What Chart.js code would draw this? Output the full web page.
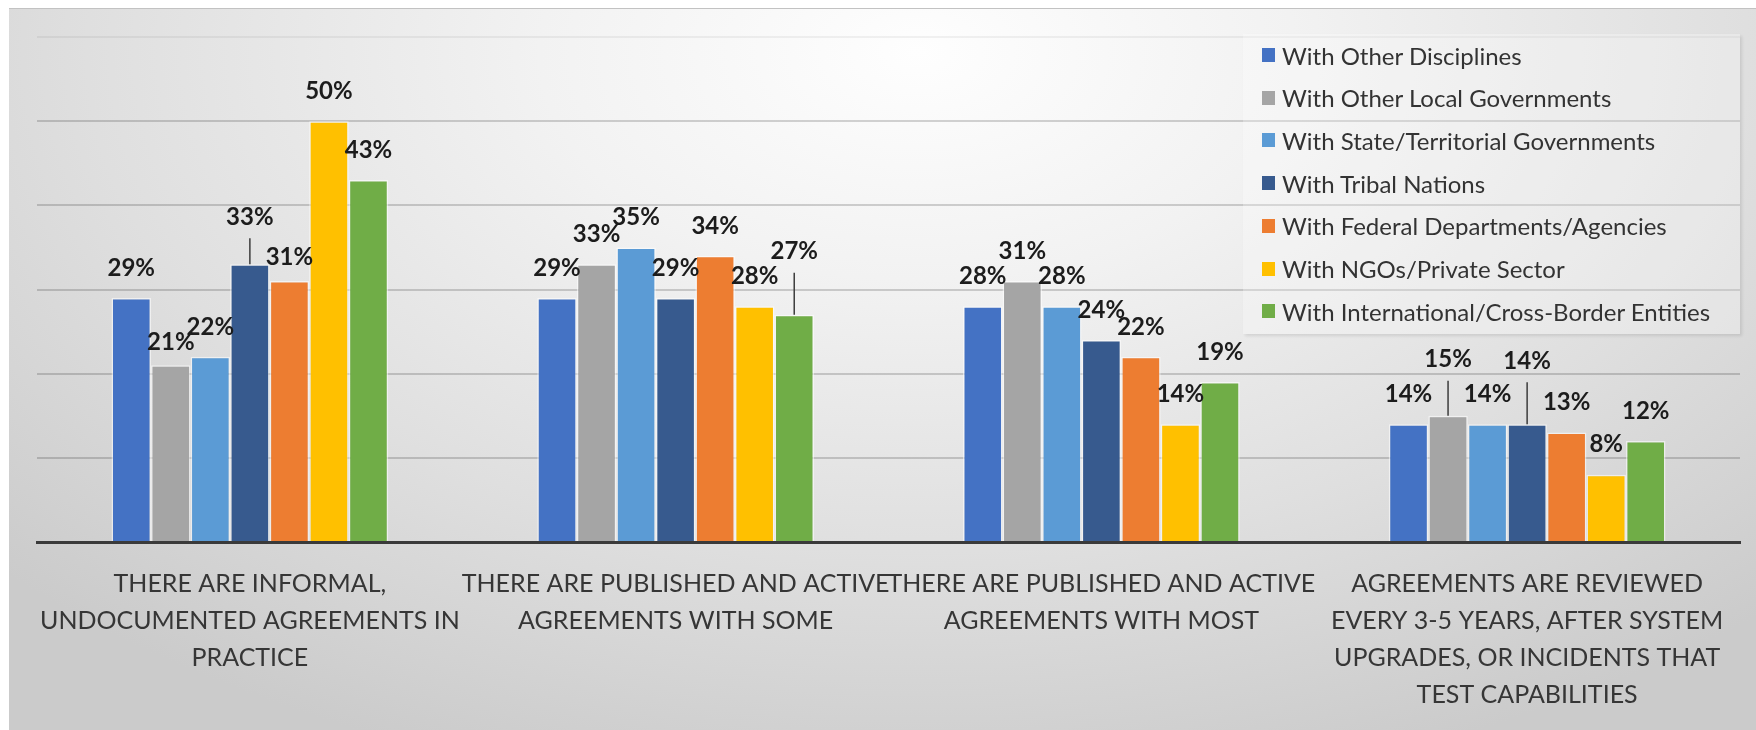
<!DOCTYPE html>
<html>
<head>
<meta charset="utf-8">
<title>Agreements by partner type</title>
<script src="https://cdn.jsdelivr.net/npm/chart.js@4.4.1/dist/chart.umd.min.js"></script>
<style>
  html, body { margin: 0; padding: 0; background: #fff; }
  #wrap { position: relative; width: 1756px; height: 730px; overflow: hidden; }
  #bg {
    position: absolute; left: 9px; top: 8px; right: 0; bottom: 0;
    border-top: 1px solid #c2c2c2;
    background: radial-gradient(ellipse 72% 105% at 52% 6%, #fefefe 0%, #f2f2f2 30%, #dfdfdf 66%, #cbcbcb 100%);
  }
  #chart { position: absolute; left: 0; top: 0; }
  #legend {
    position: absolute; left: 1243px; top: 34px; width: 497px; height: 300px;
    background: rgba(255,255,255,0.28);
    box-shadow: 2px 2px 3px rgba(0,0,0,0.10);
    font-family: Lato, sans-serif; font-size: 24px; color: #333;
  }
  .item { position: absolute; left: 19px; height: 30px; display: flex; align-items: center; white-space: nowrap; }
  .swatch { width: 13px; height: 14px; margin-right: 7px; }
</style>
</head>
<body>
<div id="wrap">
  <div id="bg"></div>
  <canvas id="chart" width="1756" height="730"></canvas>
  <div id="legend"></div>
</div>
<script>
// --- DATA ---
const categories = [
    ['THERE ARE INFORMAL,', 'UNDOCUMENTED AGREEMENTS IN', 'PRACTICE'],
    ['THERE ARE PUBLISHED AND ACTIVE', 'AGREEMENTS WITH SOME'],
    ['THERE ARE PUBLISHED AND ACTIVE', 'AGREEMENTS WITH MOST'],
    ['AGREEMENTS ARE REVIEWED', 'EVERY 3-5 YEARS, AFTER SYSTEM', 'UPGRADES, OR INCIDENTS THAT', 'TEST CAPABILITIES']
];
const seriesNames = [
    'With Other Disciplines',
    'With Other Local Governments',
    'With State/Territorial Governments',
    'With Tribal Nations',
    'With Federal Departments/Agencies',
    'With NGOs/Private Sector',
    'With International/Cross-Border Entities'
];
const otherDisciplines = [29, 29, 28, 14];
const otherLocalGovts  = [21, 33, 31, 15];
const stateTerritorial = [22, 35, 28, 14];
const tribalNations    = [33, 29, 24, 14];
const federalAgencies  = [31, 34, 22, 13];
const ngosPrivate      = [50, 28, 14, 8];
const international    = [43, 27, 19, 12];
const yTicks = [0, 10, 20, 30, 40, 50, 60];

// --- STYLE ---
const colors = ['#4472C4', '#A5A5A5', '#5B9BD5', '#375A8E', '#ED7D31', '#FFC000', '#70AD47'];
const LABEL_DY = -30;
// labels that were dragged away from the bar; far ones get a leader line
const labelNudges = [
    { series: 1, cat: 0, dy: -23 },
    { series: 3, cat: 0, dy: -47 },
    { series: 4, cat: 0, dy: -24 },
    { series: 6, cat: 1, dy: -63 },
    { series: 1, cat: 3, dy: -56 },
    { series: 3, cat: 3, dy: -63 }
];

Chart.defaults.font.family = 'Lato, sans-serif';

const valueLabels = {
    id: 'valueLabels',
    afterDatasetsDraw(chart) {
        const ctx = chart.ctx;
        ctx.save();
        ctx.font = 'bold 24px Lato, sans-serif';
        ctx.textAlign = 'center';
        ctx.textBaseline = 'middle';
        chart.data.datasets.forEach((ds, i) => {
            chart.getDatasetMeta(i).data.forEach((bar, j) => {
                const nudge = labelNudges.find(n => n.series === i && n.cat === j);
                const dy = nudge ? nudge.dy : LABEL_DY;
                const y = bar.y + dy;
                if (dy < -40) {
                    ctx.strokeStyle = '#3c3c3c';
                    ctx.lineWidth = 1.5;
                    ctx.beginPath();
                    ctx.moveTo(bar.x, y + 21);
                    ctx.lineTo(bar.x, bar.y);
                    ctx.stroke();
                }
                ctx.fillStyle = '#1c1c1c';
                ctx.fillText(ds.data[j] + '%', bar.x, y);
            });
        });
        ctx.restore();
    }
};

const seriesData = [otherDisciplines, otherLocalGovts, stateTerritorial, tribalNations,
                    federalAgencies, ngosPrivate, international];

const chart = new Chart(document.getElementById('chart'), {
    type: 'bar',
    data: {
        labels: categories,
        datasets: seriesData.map((values, i) => ({
            label: seriesNames[i],
            data: values,
            backgroundColor: colors[i],
            borderColor: 'rgba(255,255,255,0.55)',
            borderWidth: 1.5,
            barPercentage: 1,
            categoryPercentage: 0.65
        }))
    },
    options: {
        responsive: false,
        animation: false,
        devicePixelRatio: 1,
        layout: { padding: { left: 37, right: 16, top: 37, bottom: 0 } },
        plugins: { legend: { display: false }, tooltip: { enabled: false } },
        scales: {
            x: {
                grid: { display: false, drawTicks: false },
                border: { color: '#3a3a3a', width: 3 },
                ticks: {
                    color: '#363636',
                    font: { size: 25, lineHeight: 1.48 },
                    padding: 23,
                    maxRotation: 0,
                    autoSkip: false
                },
                afterFit: s => { s.height = 188; }
            },
            y: {
                min: 0,
                max: 60,
                afterBuildTicks: s => { s.ticks = yTicks.map(v => ({ value: v })); },
                ticks: { display: false },
                border: { display: false },
                grid: {
                    drawTicks: false,
                    lineWidth: 2,
                    color: c => c.tick && c.tick.value === 60 ? 'rgba(0,0,0,0.05)' : 'rgba(0,0,0,0.17)'
                },
                afterFit: s => { s.width = 0; }
            }
        }
    },
    plugins: [valueLabels]
});

// --- LEGEND ---
const legendEl = document.getElementById('legend');
chart.data.datasets.forEach((ds, i) => {
    const item = document.createElement('div');
    item.className = 'item';
    item.style.top = (6 + i * 42.7) + 'px';
    item.innerHTML = '<span class="swatch" style="background:' + ds.backgroundColor + '"></span>' + ds.label;
    legendEl.appendChild(item);
});
</script>
</body>
</html>
